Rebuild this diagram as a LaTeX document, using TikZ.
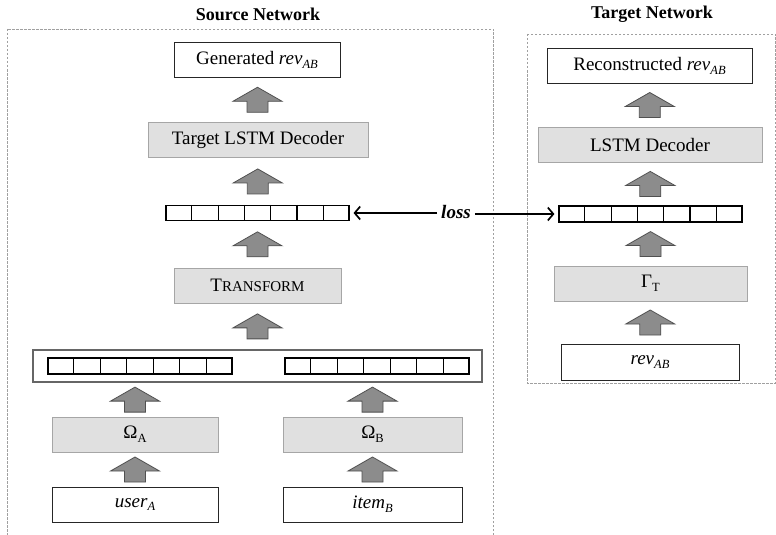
\documentclass[tikz,border=0pt]{standalone}
\usepackage{fontspec}
\setmainfont{Liberation Serif}
\usetikzlibrary{calc,arrows.meta}
\definecolor{boxgray}{HTML}{E0E0E0}
\definecolor{arrfill}{HTML}{8C8C8C}
\definecolor{arrdraw}{HTML}{505050}
\definecolor{dashgray}{HTML}{A0A0A0}
\newcommand\vcells[1]{\foreach \i in {1,...,6} \draw[line width=1.1pt] ($(#1.north west)!\i/7!(#1.north east)$) -- ($(#1.south west)!\i/7!(#1.south east)$);}
\newcommand\mysub[1]{\raisebox{-0.45ex}{\fontsize{12.5}{13}\selectfont #1}}
\tikzset{
 whitebox/.style={draw=black!85, line width=0.8pt, fill=white, minimum height=35, inner sep=0pt, font=\fontsize{19}{22}\selectfont},
 graybox/.style={whitebox, draw=black!35, fill=boxgray},
 vec/.style={draw=black, line width=1.1pt, fill=white, minimum width=183, minimum height=15, inner sep=0pt},
 titletext/.style={font=\fontsize{18}{21}\selectfont\bfseries},
 dashbox/.style={draw=dashgray, dash pattern=on 2.5pt off 1.5pt, line width=0.6pt},
 blockarr/.style={draw=arrdraw, fill=arrfill, line width=0.8pt, line join=miter},
 lossarr/.style={line width=1.7pt, -{Straight Barb[length=5.5pt,width=13pt,line width=1.7pt]}, shorten >=4pt},
 pics/uparr/.style={code={\draw[blockarr] (0,-12.5) -- (24.5,1.5) -- (10.5,1.5) -- (10.5,12.5) -- (-10.5,12.5) -- (-10.5,1.5) -- (-24.5,1.5) -- cycle;}}
}
\begin{document}
\begin{tikzpicture}[x=1pt,y=-1pt]
\clip (0,0) rectangle (776,535);
\fill[white] (0,0) rectangle (776,535);
% titles
\node[titletext] (srctitle) at (258,14) {Source Network};
\node[titletext] (tgttitle) at (652,14) {Target Network};
% dashed frames
\draw[dashbox] (7,29) rectangle (493,545);
\draw[dashbox] (527,34) rectangle (775,383);
% source network
\node[whitebox, minimum width=166] (gen) at (257,59.5) {Generated \textit{rev}\mysub{\textit{AB}}};
\node[graybox, minimum width=220] (tl) at (258,140) {Target LSTM Decoder};
\node[vec] (sv) at (257.5,213) {};
\vcells{sv}
\node[graybox, minimum width=167] (tr) at (257.5,285.5) {T{\fontsize{15}{18}\selectfont RANSFORM}};
\node[draw=black!60, line width=1.3pt, fill=white, minimum width=449, minimum height=32, inner sep=0pt] (cat) at (257.5,366) {};
\node[vec, minimum width=184, minimum height=16] (lv) at (140,366) {};
\vcells{lv}
\node[vec, minimum width=184, minimum height=16] (rv) at (377,366) {};
\vcells{rv}
\node[graybox, minimum width=166] (oa) at (135,434.5) {Ω\mysub{A}};
\node[graybox, minimum width=179] (ob) at (372.5,434.5) {Ω\mysub{B}};
\node[whitebox, minimum width=166] (ua) at (135,504.5) {\textit{user}\mysub{\textit{A}}};
\node[whitebox, minimum width=179] (ib) at (372.5,504.5) {\textit{item}\mysub{\textit{B}}};
% target network
\node[whitebox, minimum width=205] (rec) at (649.5,65.5) {Reconstructed \textit{rev}\mysub{\textit{AB}}};
\node[graybox, minimum width=224] (ld) at (650,144.5) {LSTM Decoder};
\node[vec, minimum height=16] (tv) at (650.5,214) {};
\vcells{tv}
\node[graybox, minimum width=193] (gt) at (650.5,283.5) {Γ\mysub{T}};
\node[whitebox, minimum width=178, minimum height=36] (rev) at (650,362) {\textit{rev}\mysub{\textit{AB}}};
% block arrows
\path (tl.north) -- (gen.south) coordinate[midway] (a1);
\path (sv.north) -- (tl.south) coordinate[midway] (a2);
\path (tr.north) -- (sv.south) coordinate[midway] (a3);
\path (cat.north) -- (tr.south) coordinate[midway] (a4);
\path (oa.north) -- (oa.north |- cat.south) coordinate[midway] (a5);
\path (ob.north) -- (ob.north |- cat.south) coordinate[midway] (a6);
\path (ua.north) -- (oa.south) coordinate[midway] (a7);
\path (ib.north) -- (ob.south) coordinate[midway] (a8);
\path (ld.north) -- (rec.south) coordinate[midway] (b1);
\path (tv.north) -- (ld.south) coordinate[midway] (b2);
\path (gt.north) -- (tv.south) coordinate[midway] (b3);
\path (rev.north) -- (gt.south) coordinate[midway] (b4);
\foreach \c in {a1,a2,a3,a4,a5,a6,a7,a8,b1,b2,b3,b4} \pic at (\c) {uparr};
% loss
\node[font=\fontsize{19}{22}\selectfont\bfseries\itshape, inner xsep=4pt, inner ysep=1pt] (loss) at (456,212) {loss};
\draw[lossarr] (loss.west |- sv.east) -- (sv.east);
\draw[lossarr] (loss.east |- tv.west) -- (tv.west);
\end{tikzpicture}
\end{document}
